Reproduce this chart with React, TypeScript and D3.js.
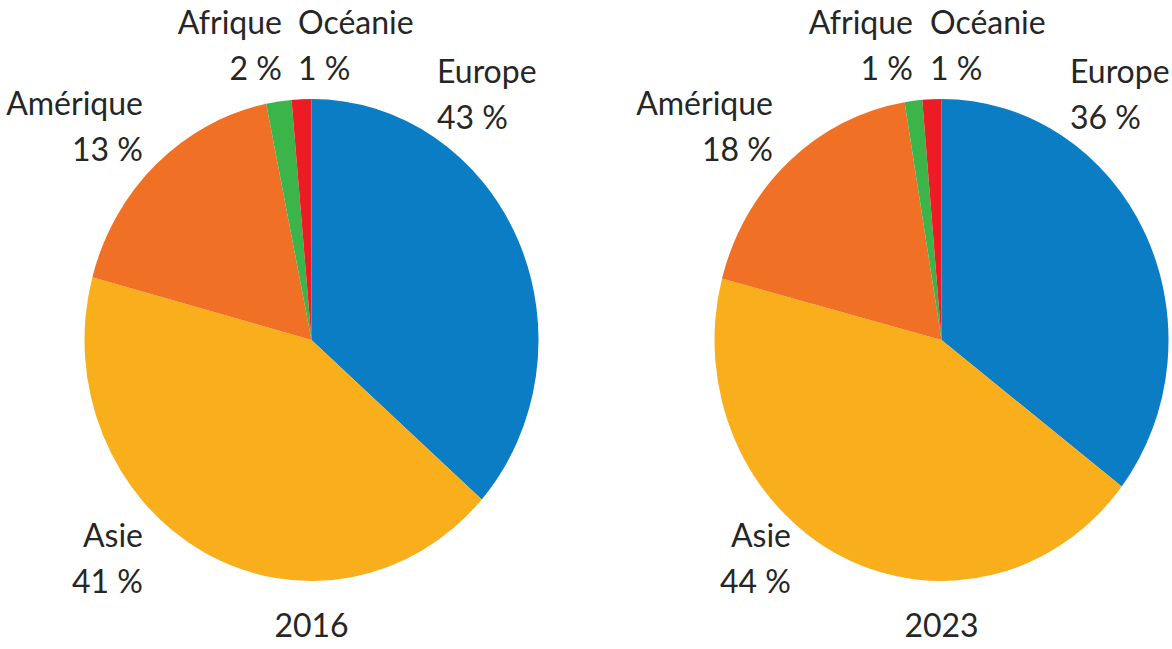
import React, { useEffect, useRef } from 'react';
import * as d3 from 'd3';

// regions, in drawing order (clockwise from 12 o'clock)
const regions = ['Europe', 'Asie', 'Amérique', 'Afrique', 'Océanie'];
const colors = ['#0a7dc5', '#f9ae1c', '#f07025', '#3bb54a', '#ed1c24'];

// slice sizes as drawn in the picture (%)
const shares2016 = [36.5, 42.7, 17.6, 1.8, 1.4];
const shares2023 = [35.4, 43.7, 18.3, 1.25, 1.35];

// percentages printed on the labels
const labels2016 = ['43 %', '41 %', '13 %', '2 %', '1 %'];
const labels2023 = ['36 %', '44 %', '18 %', '1 %', '1 %'];

const years = ['2016', '2023'];

const W = 1172;
const H = 649;

const App = () => {
  const ref = useRef<SVGSVGElement>(null);

  useEffect(() => {
    const svg = d3.select(ref.current);
    svg.selectAll('*').remove();

    const rx = 227;
    const ry = 241;
    const cy = 340;
    const font = 'Lato, "Open Sans", sans-serif';

    // label placement: x, anchor, name baseline
    const layouts = [
      [
        { x: 437, anchor: 'start', y: 83 },
        { x: 143, anchor: 'end', y: 547 },
        { x: 143, anchor: 'end', y: 115 },
        { x: 282, anchor: 'end', y: 34 },
        { x: 298, anchor: 'start', y: 34 },
      ],
      [
        { x: 1070, anchor: 'start', y: 83 },
        { x: 791, anchor: 'end', y: 547 },
        { x: 773, anchor: 'end', y: 115 },
        { x: 913, anchor: 'end', y: 34 },
        { x: 930, anchor: 'start', y: 34 },
      ],
    ];

    const pies = [
      { cx: 311.5, shares: shares2016, labels: labels2016, year: years[0] },
      { cx: 941.5, shares: shares2023, labels: labels2023, year: years[1] },
    ];

    const pie = d3.pie<number>().sort(null).value(d => d);
    const arc = d3.arc<d3.PieArcDatum<number>>().innerRadius(0).outerRadius(rx);

    pies.forEach((p, pi) => {
      const g = svg.append('g')
        .attr('transform', `translate(${p.cx},${cy}) scale(1,${ry / rx})`);

      g.selectAll('path')
        .data(pie(p.shares))
        .enter()
        .append('path')
        .attr('d', arc)
        .attr('fill', (_, i) => colors[i]);

      regions.forEach((name, i) => {
        const l = layouts[pi][i];
        const t = svg.append('text')
          .attr('text-anchor', l.anchor)
          .style('font-family', font)
          .style('font-size', '32px')
          .attr('fill', '#262626');
        t.append('tspan').attr('x', l.x).attr('y', l.y).text(name);
        t.append('tspan').attr('x', l.x).attr('y', l.y + 46).text(p.labels[i]);
      });

      svg.append('text')
        .attr('x', p.cx)
        .attr('y', 637)
        .attr('text-anchor', 'middle')
        .style('font-family', font)
        .style('font-size', '32px')
        .attr('fill', '#262626')
        .text(p.year);
    });
  }, []);

  return (
    <div style={{ position: 'absolute', left: 0, top: 0 }}>
      <svg ref={ref} width={W} height={H} style={{ display: 'block', background: '#fff' }} />
    </div>
  );
};

export default App;
